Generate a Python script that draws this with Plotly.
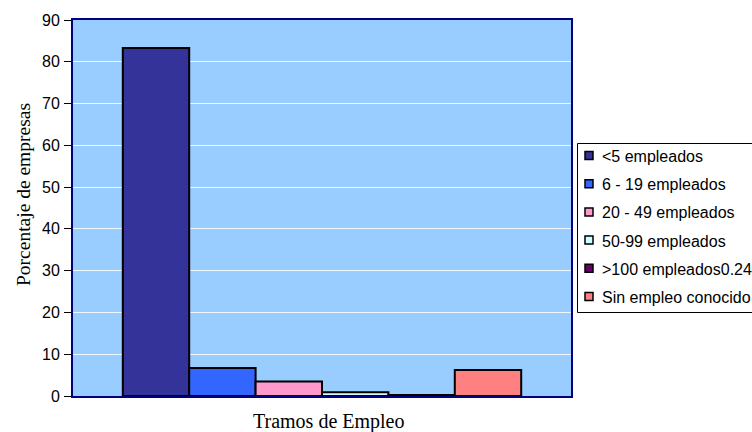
import plotly.graph_objects as go

# Company distribution by employment bracket (percent of companies)
series_names = ["<5 empleados", "6 - 19 empleados", "20 - 49 empleados",
                "50-99 empleados", ">100 empleados0.24", "Sin empleo conocido"]
series_values = [83.3, 6.7, 3.5, 0.9, 0.24, 6.2]
series_colors = ["#333399", "#3366FF", "#FF99CC", "#CCFFFF", "#660066", "#FF8080"]
category = ["Tramos"]
y_ticks = [0, 10, 20, 30, 40, 50, 60, 70, 80, 90]

W, H = 752, 432
L, R, T, B = 73, 181, 20, 36
PW, PH = W - L - R, H - T - B


def px_x(px):
    return (px - L) / PW


def px_y(py):
    return (H - B - py) / PH


SANS = "Liberation Sans, Arial, sans-serif"
SERIF = "Liberation Serif, Times New Roman, serif"

fig = go.Figure()
for name, val, col in zip(series_names, series_values, series_colors):
    fig.add_trace(go.Bar(
        x=category, y=[val], name=name, showlegend=False,
        marker=dict(color=col, line=dict(color="#000000", width=2)),
    ))

shapes = []
annotations = []

# Boxed legend on the right, partly running off the page edge
shapes.append(dict(type="rect", xref="paper", yref="paper",
                   x0=px_x(577.5), x1=px_x(770), y0=px_y(312.5), y1=px_y(143.5),
                   line=dict(color="#000000", width=1), fillcolor="#FFFFFF", layer="above"))
for i, (name, col) in enumerate(zip(series_names, series_colors)):
    cy = 155.5 + 28.2 * i
    shapes.append(dict(type="rect", xref="paper", yref="paper",
                       x0=px_x(585), x1=px_x(593), y0=px_y(cy + 4), y1=px_y(cy - 4),
                       line=dict(color="#000000", width=1.5), fillcolor=col, layer="above"))
    annotations.append(dict(xref="paper", yref="paper", x=px_x(600), y=px_y(cy + 1),
                            xanchor="left", yanchor="middle", showarrow=False,
                            text=name, font=dict(family=SANS, size=16, color="#000000")))

# Axis titles
annotations.append(dict(xref="paper", yref="paper", x=px_x(23), y=px_y(195),
                        xanchor="center", yanchor="middle", showarrow=False, textangle=-90,
                        text="Porcentaje de empresas",
                        font=dict(family=SERIF, size=19.5, color="#000000")))
annotations.append(dict(xref="paper", yref="paper", x=px_x(328), y=px_y(421),
                        xanchor="center", yanchor="middle", showarrow=False,
                        text="Tramos de Empleo",
                        font=dict(family=SERIF, size=20, color="#000000")))

fig.update_layout(
    width=W, height=H,
    margin=dict(l=L, r=R, t=T, b=B, autoexpand=False),
    paper_bgcolor="#FFFFFF",
    plot_bgcolor="#99CCFF",
    barmode="group",
    bargap=0.2,
    bargroupgap=0,
    font=dict(family=SANS, size=16, color="#000000"),
    showlegend=False,
    shapes=shapes,
    annotations=annotations,
    xaxis=dict(
        showticklabels=False, ticks="",
        showline=True, linecolor="#000080", linewidth=2, mirror=True,
    ),
    yaxis=dict(
        range=[0, 90], tickvals=y_ticks, ticks="outside", ticklen=7,
        tickcolor="#000000", ticklabelstandoff=1,
        tickfont=dict(family=SANS, size=16, color="#000000"),
        showgrid=True, gridcolor="rgba(255,255,255,0.85)", gridwidth=1,
        showline=True, linecolor="#000080", linewidth=2, mirror=True,
        zeroline=False,
    ),
)

fig.write_html("out.html")
